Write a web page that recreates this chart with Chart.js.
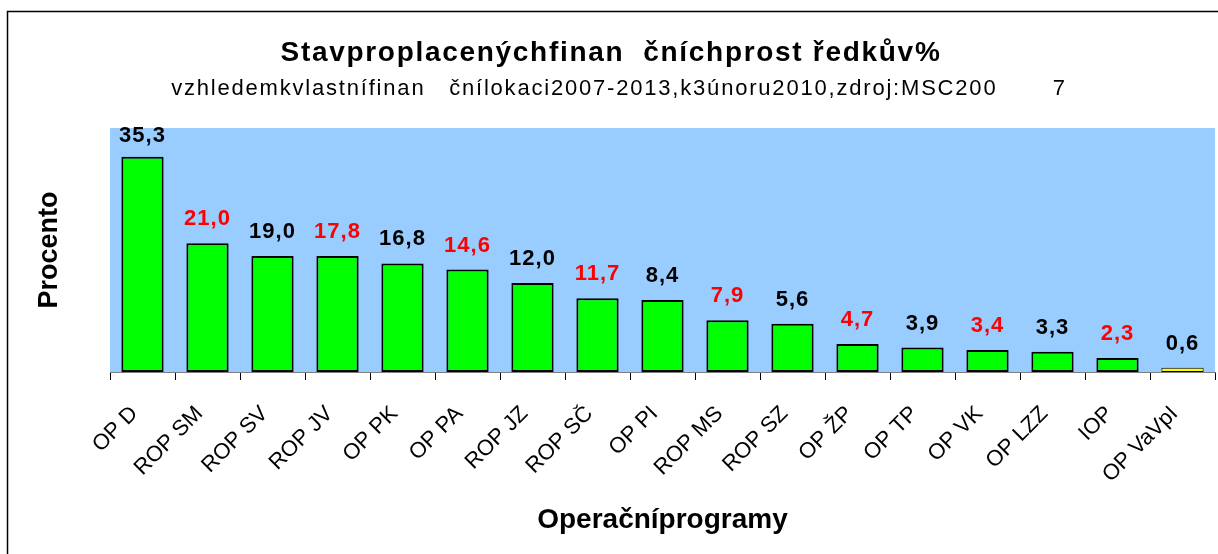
<!DOCTYPE html>
<html>
<head>
<meta charset="utf-8">
<script src="https://cdn.jsdelivr.net/npm/chart.js@4/dist/chart.umd.min.js"></script>
<style>
  html, body { margin: 0; padding: 0; background: #fff; }
</style>
</head>
<body>
<canvas id="chart" width="1218" height="554"></canvas>
<script>
// data
var programs = ['OP D', 'ROP SM', 'ROP SV', 'ROP JV', 'OP PK', 'OP PA', 'ROP JZ', 'ROP SČ', 'OP PI',
                'ROP MS', 'ROP SZ', 'OP ŽP', 'OP TP', 'OP VK', 'OP LZZ', 'IOP', 'OP VaVpI'];
// bar heights as drawn in the picture (they drift from the printed numbers in the middle)
var barHeights = [35.3, 21.1, 19.0, 19.0, 17.8, 16.8, 14.6, 12.1, 11.8, 8.5, 7.9, 4.6, 4.0, 3.6, 3.3, 2.3, 0.7];
// numbers printed above the bars
var printedValues = [35.3, 21.0, 19.0, 17.8, 16.8, 14.6, 12.0, 11.7, 8.4, 7.9, 5.6, 4.7, 3.9, 3.4, 3.3, 2.3, 0.6];
var yRange = [0, 40];

var titleText = 'Stavproplacenýchfinan  čníchprost ředkův%';
var subtitleText = 'vzhledemkvlastnífinan   čnílokaci2007-2013,k3únoru2010,zdroj:MSC200       7';
var xTitle = 'Operačníprogramy';
var yTitle = 'Procento';

var FONT = '"Liberation Sans", Arial, sans-serif';
Chart.defaults.font.family = FONT;
Chart.defaults.color = '#000';

var last = programs.length - 1;

var decor = {
    id: 'decor',
    beforeDraw: function (chart) {
        var ctx = chart.ctx, a = chart.chartArea;
        ctx.save();
        ctx.fillStyle = '#fff';
        ctx.fillRect(0, 0, chart.width, chart.height);
        // outer frame (right and bottom edges are cut off in the reference)
        ctx.strokeStyle = '#000';
        ctx.lineWidth = 1.5;
        ctx.beginPath();
        ctx.moveTo(7.5, chart.height);
        ctx.lineTo(7.5, 11.5);
        ctx.lineTo(chart.width, 11.5);
        ctx.stroke();
        // plot area
        ctx.fillStyle = '#99ccff';
        ctx.fillRect(a.left, a.top, a.right - a.left, a.bottom - a.top);
        ctx.restore();
    },
    afterDatasetsDraw: function (chart) {
        var ctx = chart.ctx, a = chart.chartArea;
        var meta = chart.getDatasetMeta(0);
        ctx.save();
        ctx.textAlign = 'center';
        ctx.textBaseline = 'alphabetic';
        ctx.font = 'bold 22px ' + FONT;
        ctx.letterSpacing = '1px';
        meta.data.forEach(function (bar, i) {
            ctx.fillStyle = i % 2 ? '#ff0000' : '#000000';
            var y = Math.max(bar.y - 18, a.top + 14);
            ctx.fillText(printedValues[i].toFixed(1).replace('.', ','), bar.x, y);
        });
        // titles
        ctx.fillStyle = '#000';
        ctx.font = 'bold 28px ' + FONT;
        ctx.letterSpacing = '1.7px';
        ctx.fillText(titleText, 611, 61);
        ctx.font = '22px ' + FONT;
        ctx.letterSpacing = '1.8px';
        ctx.fillText(subtitleText, 619, 95);
        ctx.restore();
    }
};

new Chart(document.getElementById('chart'), {
    type: 'bar',
    data: {
        labels: programs,
        datasets: [{
            data: barHeights,
            backgroundColor: function (c) { return c.dataIndex === last ? '#ffff00' : '#00ff00'; },
            borderColor: '#000',
            borderWidth: function (c) { return c.dataIndex === last ? 1 : 2; },
            borderSkipped: false,
            categoryPercentage: 1,
            barPercentage: 0.65
        }]
    },
    options: {
        responsive: false,
        animation: false,
        layout: { padding: { left: 30, right: 3, top: 128, bottom: 0 } },
        plugins: {
            legend: { display: false },
            tooltip: { enabled: false }
        },
        scales: {
            x: {
                grid: { offset: true, drawOnChartArea: false, tickLength: 8, color: '#000' },
                border: { color: '#808080', width: 1 },
                ticks: { autoSkip: false, minRotation: 45, maxRotation: 45, padding: 21, labelOffset: -8, font: { size: 22 } },
                title: { display: true, text: xTitle, font: { size: 28, weight: 'bold' }, padding: { top: 0, bottom: 17 } },
                afterFit: function (s) {
                    s.height = 182;
                    s.paddingLeft = 0;
                    s.paddingRight = 0;
                }
            },
            y: {
                min: yRange[0],
                max: yRange[1],
                ticks: { display: false },
                grid: { display: false },
                border: { display: false },
                title: { display: true, text: yTitle, font: { size: 27, weight: 'bold' }, padding: { top: 3 } },
                afterFit: function (s) { s.width = 80; }
            }
        }
    },
    plugins: [decor]
});
</script>
</body>
</html>
